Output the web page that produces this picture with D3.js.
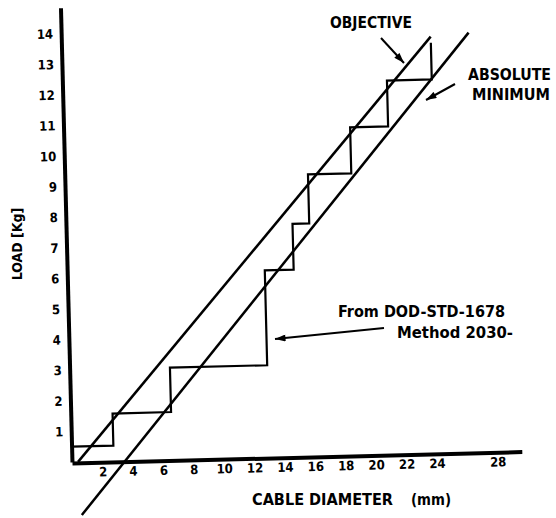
<!DOCTYPE html>
<html><head><meta charset="utf-8">
<script src="https://cdn.jsdelivr.net/npm/d3@7"></script>
<style>
html,body{margin:0;padding:0;background:#fff;}
svg{display:block;}
text{font-family:"Liberation Sans Narrow","DejaVu Sans Condensed","DejaVu Sans",sans-serif;font-stretch:condensed;font-weight:bold;fill:#000;}
</style></head><body>
<svg id="chart" width="556" height="518"></svg>
<script>
// ---- data ----
const xTickValues = [2, 4, 6, 8, 10, 12, 14, 16, 18, 20, 22, 24, 28];
const xTickLabels = ["2", "4", "6", "8", "10", "12", "14", "16", "18", "20", "22", "24", "28"];
const yTickValues = [1, 2, 3, 4, 5, 6, 7, 8, 9, 10, 11, 12, 13, 14];
// DOD-STD-1678 Method 2030 step curve (diameter mm, load kg)
const stepDiam = [0, 2.75, 6.6, 13.0, 14.9, 16.0, 18.85, 21.35, 24.3];
const stepLoad = [0.5, 1.55, 3.0, 6.1, 7.6, 9.2, 10.7, 12.2, 13.4];
// Objective line
const objectiveDiam = [0.4, 24.3];
const objectiveLoad = [0, 13.6];
// Absolute minimum line
const minimumDiam = [0.56, 26.8];
const minimumLoad = [-1.74, 13.7];

// ---- drawing ----
const svg = d3.select("#chart");
const ox = 72, oy = 463;
const x = d3.scaleLinear().domain([0, 29.6]).range([ox, ox + 29.6 * 15.2]);
const y = d3.scaleLinear().domain([0, 14.85]).range([oy - 1, oy - 1 - 14.85 * 30.6]);

const defs = svg.append("defs");
defs.append("marker").attr("id", "arr")
  .attr("viewBox", "0 0 12 8").attr("refX", 12).attr("refY", 4)
  .attr("markerWidth", 12).attr("markerHeight", 7)
  .attr("markerUnits", "userSpaceOnUse").attr("orient", "auto")
  .append("path").attr("d", "M0,0 L12,4 L0,8 Z").attr("fill", "#000");

const g = svg.append("g").attr("transform", `rotate(-1.45, ${ox}, ${oy})`);

// axes
const xAxis = d3.axisBottom(x).tickValues(xTickValues)
  .tickFormat((d, i) => xTickLabels[i]).tickSize(0).tickSizeOuter(0).tickPadding(5);
const gx = g.append("g").attr("transform", `translate(0, ${oy})`).call(xAxis);
gx.select(".domain").attr("stroke", "#000").attr("stroke-width", 4);
gx.selectAll("text").attr("font-size", 13).attr("font-family", null);

const yAxis = d3.axisLeft(y).tickValues(yTickValues).tickSize(0).tickSizeOuter(0).tickPadding(8);
const gy = g.append("g").attr("transform", `translate(${ox}, 0)`).call(yAxis);
gy.select(".domain").attr("stroke", "#000").attr("stroke-width", 4);
gy.selectAll("text").attr("font-size", 13).attr("font-family", null);

// step curve
const stepPts = stepDiam.map((d, i) => [d, stepLoad[i]]);
g.append("path").datum(stepPts)
  .attr("d", d3.line().x(d => x(d[0])).y(d => y(d[1])).curve(d3.curveStepAfter))
  .attr("fill", "none").attr("stroke", "#000").attr("stroke-width", 2.2);

// diagonal lines
const lineGen = d3.line().x(d => x(d[0])).y(d => y(d[1]));
g.append("path").datum(objectiveDiam.map((d, i) => [d, objectiveLoad[i]]))
  .attr("d", lineGen).attr("fill", "none").attr("stroke", "#000").attr("stroke-width", 2.5);
g.append("path").datum(minimumDiam.map((d, i) => [d, minimumLoad[i]]))
  .attr("d", lineGen).attr("fill", "none").attr("stroke", "#000").attr("stroke-width", 2.5);

// axis titles
svg.append("text").attr("transform", "translate(22, 244) rotate(-90)")
  .attr("text-anchor", "middle").attr("font-size", 14).text("LOAD  [Kg]");
svg.append("text").attr("x", 252).attr("y", 505).attr("font-size", 16)
  .attr("textLength", 141).attr("lengthAdjust", "spacingAndGlyphs").text("CABLE DIAMETER");
svg.append("text").attr("x", 411).attr("y", 505).attr("font-size", 16)
  .attr("textLength", 40).attr("lengthAdjust", "spacingAndGlyphs").text("(mm)");

// annotations
svg.append("text").attr("x", 330).attr("y", 28).attr("font-size", 15)
  .attr("textLength", 82).attr("lengthAdjust", "spacingAndGlyphs").text("OBJECTIVE");
svg.append("text").attr("x", 468).attr("y", 80).attr("font-size", 15)
  .attr("textLength", 83).attr("lengthAdjust", "spacingAndGlyphs").text("ABSOLUTE");
svg.append("text").attr("x", 472).attr("y", 100).attr("font-size", 15)
  .attr("textLength", 78).attr("lengthAdjust", "spacingAndGlyphs").text("MINIMUM");
svg.append("text").attr("x", 338).attr("y", 317).attr("font-size", 15)
  .attr("textLength", 167).attr("lengthAdjust", "spacingAndGlyphs").text("From DOD-STD-1678");
svg.append("text").attr("x", 397).attr("y", 338).attr("font-size", 15)
  .attr("textLength", 116).attr("lengthAdjust", "spacingAndGlyphs").text("Method 2030-");

const arrows = [
  [381, 38, 404, 63],
  [455, 84, 426, 100],
  [384, 328, 275, 339]
];
svg.selectAll("line.arrow").data(arrows).enter().append("line").attr("class", "arrow")
  .attr("x1", d => d[0]).attr("y1", d => d[1]).attr("x2", d => d[2]).attr("y2", d => d[3])
  .attr("stroke", "#000").attr("stroke-width", 2).attr("marker-end", "url(#arr)");
</script>
</body></html>
